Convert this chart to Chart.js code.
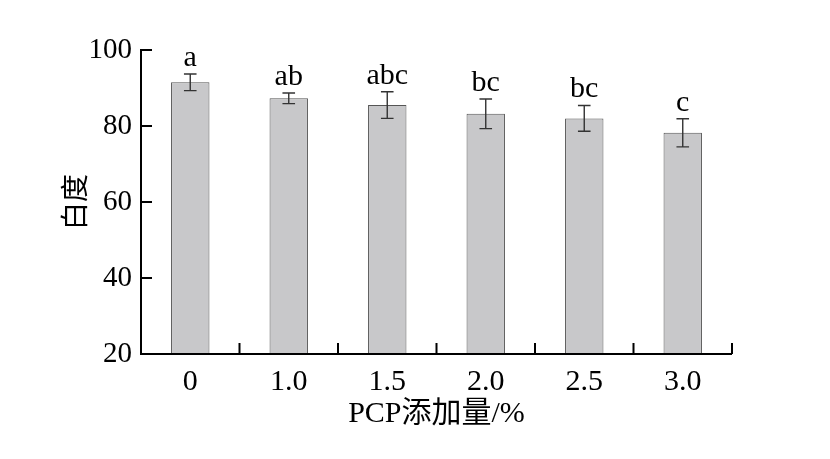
<!DOCTYPE html>
<html>
<head>
<meta charset="utf-8">
<script src="https://cdn.jsdelivr.net/npm/chart.js@4.4.1/dist/chart.umd.min.js"></script>
<style>
html,body{margin:0;padding:0;background:#fff;}
#wrap{width:830px;height:459px;}
</style>
</head>
<body>
<div id="wrap"><canvas id="c" width="830" height="459"></canvas></div>
<script>
const categories = ['0', '1.0', '1.5', '2.0', '2.5', '3.0'];
const whiteness = [91.5, 87.3, 85.5, 83.2, 82.0, 78.2];
const errors = [2.2, 1.4, 3.5, 3.9, 3.4, 3.7];
const letters = ['a', 'ab', 'abc', 'bc', 'bc', 'c'];
const yTicks = [20, 40, 60, 80, 100];

const FONT = "'Liberation Serif', 'Noto Sans CJK SC', serif";

const decorPlugin = {
  id: 'decor',
  afterDatasetsDraw(chart) {
    const ctx = chart.ctx;
    const xs = chart.scales.x, ys = chart.scales.y;
    const meta = chart.getDatasetMeta(0);
    ctx.save();
    // error bars
    meta.data.forEach((bar, i) => {
      const x = bar.x;
      const yT = ys.getPixelForValue(whiteness[i] + errors[i]);
      const yB = ys.getPixelForValue(whiteness[i] - errors[i]);
      ctx.strokeStyle = '#333';
      ctx.lineWidth = 1.4;
      ctx.beginPath();
      ctx.moveTo(x, yT); ctx.lineTo(x, yB);
      ctx.moveTo(x - 6.3, yT); ctx.lineTo(x + 6.3, yT);
      ctx.moveTo(x - 6.3, yB); ctx.lineTo(x + 6.3, yB);
      ctx.stroke();
      // significance letters
      ctx.fillStyle = '#000';
      ctx.font = '30px ' + FONT;
      ctx.textAlign = 'center';
      ctx.textBaseline = 'alphabetic';
      ctx.fillText(letters[i], x, yT - 8);
    });
    // axes
    ctx.strokeStyle = '#000';
    ctx.lineWidth = 2;
    ctx.beginPath();
    ctx.moveTo(xs.left, ys.top - 1);
    ctx.lineTo(xs.left, ys.bottom);
    ctx.lineTo(xs.right, ys.bottom);
    ctx.stroke();
    // y ticks inward
    ctx.beginPath();
    yTicks.forEach(v => {
      const y = ys.getPixelForValue(v);
      ctx.moveTo(xs.left, y); ctx.lineTo(xs.left + 11, y);
    });
    // x ticks at category boundaries, inward
    const n = categories.length;
    const step = (xs.right - xs.left) / n;
    for (let i = 1; i <= n; i++) {
      const x = xs.getPixelForValue(i - 1) + step / 2;
      ctx.moveTo(x, ys.bottom); ctx.lineTo(x, ys.bottom - 11);
    }
    ctx.stroke();
    ctx.restore();
  }
};

new Chart(document.getElementById('c'), {
  type: 'bar',
  data: {
    labels: categories,
    datasets: [{
      data: whiteness,
      backgroundColor: '#c8c8ca',
      borderColor: '#555',
      borderWidth: 1,
      barPercentage: 0.39,
      categoryPercentage: 1.0
    }]
  },
  options: {
    responsive: false,
    animation: false,
    devicePixelRatio: 1,
    layout: { padding: { left: 0, right: 98, top: 50, bottom: 0 } },
    plugins: { legend: { display: false }, tooltip: { enabled: false } },
    scales: {
      x: {
        grid: { display: false, drawTicks: false },
        border: { display: false },
        ticks: { color: '#000', font: { family: FONT, size: 30 }, padding: 10 },
        title: { display: true, text: 'PCP添加量/%', color: '#000', font: { family: FONT, size: 30 }, padding: { top: 0, bottom: 27 } },
        afterFit(scale) { scale.height = 105; }
      },
      y: {
        min: 20, max: 100,
        afterBuildTicks(scale) { scale.ticks = yTicks.map(v => ({ value: v })); },
        grid: { display: false, drawTicks: false },
        border: { display: false },
        ticks: { color: '#000', font: { family: FONT, size: 29 }, padding: 9 },
        title: { display: true, text: '白度', color: '#000', font: { family: FONT, size: 28 }, padding: { top: 61, bottom: 0 } },
        afterFit(scale) { scale.width = 141; }
      }
    }
  },
  plugins: [decorPlugin]
});
</script>
</body>
</html>
